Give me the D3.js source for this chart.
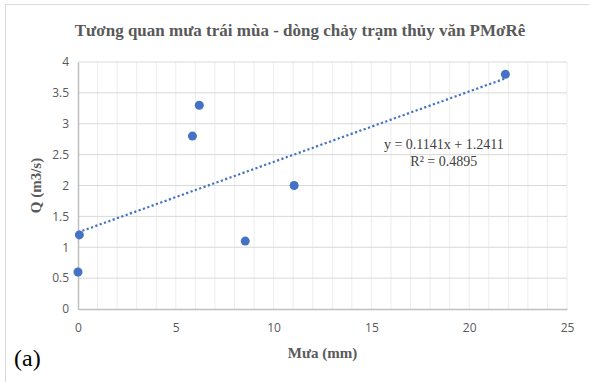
<!DOCTYPE html>
<html>
<head>
<meta charset="utf-8">
<script src="https://cdn.jsdelivr.net/npm/d3@7"></script>
<style>
  body { margin: 0; background: #fff; }
  svg { display: block; }
</style>
</head>
<body>
<div id="chart"></div>
<script>
// Scatter of rain vs discharge with linear trend line
const rain = [0, 0.07, 8.55, 5.85, 6.2, 11.05, 21.85];      // Mưa (mm)
const discharge = [0.6, 1.2, 1.1, 2.8, 3.3, 2.0, 3.8];       // Q (m3/s)
const xTicks = [0, 5, 10, 15, 20, 25];
const yTicks = [0, 0.5, 1, 1.5, 2, 2.5, 3, 3.5, 4];
const slope = 0.1141;
const intercept = 1.2411;
const eqLabel = "y = 0.1141x + 1.2411";
const r2Label = "R² = 0.4895";

const W = 589, H = 382;
const margin = { top: 62, right: 22, bottom: 73, left: 78 };
const width = W - margin.left - margin.right;
const height = H - margin.top - margin.bottom;

const svg = d3.select("#chart").append("svg")
    .attr("width", W)
    .attr("height", H);

// chart frame (runs off the right and bottom edges)
svg.append("rect")
    .attr("x", 5.5).attr("y", 4.5)
    .attr("width", 620).attr("height", 420)
    .attr("fill", "none")
    .attr("stroke", "#d9d9d9");

const g = svg.append("g").attr("transform", `translate(${margin.left},${margin.top})`);

const x = d3.scaleLinear().domain([0, 25]).range([0, width]);
const y = d3.scaleLinear().domain([0, 4]).range([height, 0]);

// minor vertical gridlines every 1 mm
g.append("g").selectAll("line")
    .data(d3.range(1, 26))
    .enter().append("line")
    .attr("x1", d => x(d)).attr("x2", d => x(d))
    .attr("y1", 0).attr("y2", height)
    .attr("stroke", "#ededed");

// horizontal gridlines
g.append("g").selectAll("line")
    .data(yTicks.slice(1))
    .enter().append("line")
    .attr("x1", 0).attr("x2", width)
    .attr("y1", d => y(d)).attr("y2", d => y(d))
    .attr("stroke", "#d9d9d9");

// axes
const xAxis = g.append("g")
    .attr("transform", `translate(0,${height})`)
    .call(d3.axisBottom(x).tickValues(xTicks).tickSize(0).tickPadding(14));
const yAxis = g.append("g")
    .call(d3.axisLeft(y).tickValues(yTicks).tickSize(0).tickPadding(9).tickFormat(d3.format("")));

[xAxis, yAxis].forEach(a => {
    a.select(".domain").attr("stroke", "#bfbfbf").attr("stroke-width", 1.5);
    a.selectAll("text")
        .style("font-family", "'Open Sans', 'Liberation Sans', sans-serif")
        .style("font-size", "12px")
        .attr("fill", "#595959");
});

// trend line
const xMax = d3.max(rain);
g.append("line")
    .attr("x1", x(0)).attr("y1", y(intercept))
    .attr("x2", x(xMax)).attr("y2", y(intercept + slope * xMax))
    .attr("stroke", "#4472c4")
    .attr("stroke-width", 2.2)
    .attr("stroke-dasharray", "2.2,2.4");

// points
g.selectAll(".pt")
    .data(rain.map((r, i) => ({ r, q: discharge[i] })))
    .enter().append("circle")
    .attr("class", "pt")
    .attr("cx", d => x(d.r))
    .attr("cy", d => y(d.q))
    .attr("r", 4.5)
    .attr("fill", "#4472c4");

// equation label
const eq = g.append("text")
    .attr("text-anchor", "middle")
    .style("font-family", "'Liberation Serif', serif")
    .style("font-size", "14px")
    .attr("fill", "#404040");
eq.append("tspan").attr("x", x(18.7)).attr("y", y(2.6) + 1).text(eqLabel);
eq.append("tspan").attr("x", x(18.7)).attr("y", y(2.6) + 18).text(r2Label);

// title
svg.append("text")
    .attr("x", 300).attr("y", 36)
    .attr("text-anchor", "middle")
    .style("font-family", "'Liberation Serif', serif")
    .style("font-size", "17px")
    .style("font-weight", "bold")
    .attr("fill", "#595959")
    .text("Tương quan mưa trái mùa - dòng chảy trạm thủy văn PMơRê");

// axis titles
svg.append("text")
    .attr("x", margin.left + width / 2).attr("y", 358)
    .attr("text-anchor", "middle")
    .style("font-family", "'Liberation Serif', serif")
    .style("font-size", "15px")
    .style("font-weight", "bold")
    .attr("fill", "#595959")
    .text("Mưa (mm)");

svg.append("text")
    .attr("transform", `translate(41,${margin.top + height / 2}) rotate(-90)`)
    .attr("text-anchor", "middle")
    .style("font-family", "'Liberation Serif', serif")
    .style("font-size", "15px")
    .style("font-weight", "bold")
    .attr("fill", "#595959")
    .text("Q (m3/s)");

// panel tag
svg.append("text")
    .attr("x", 14).attr("y", 366)
    .style("font-family", "'Liberation Serif', serif")
    .style("font-size", "24px")
    .attr("fill", "#000")
    .text("(a)");
</script>
</body>
</html>
